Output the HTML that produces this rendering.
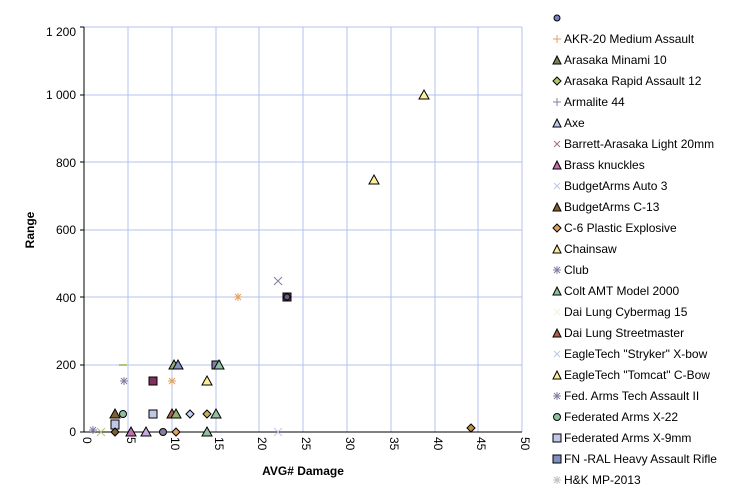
<!DOCTYPE html>
<html><head><style>
body{margin:0;background:#fff;width:747px;height:498px;overflow:hidden}
svg{font-family:"Liberation Sans",Arial,sans-serif}
</style></head><body>
<svg width="747" height="498" viewBox="0 0 747 498">
<g stroke="#b4c0ee" stroke-width="1">
<line x1="128" y1="27" x2="128" y2="432"/><line x1="172" y1="27" x2="172" y2="432"/><line x1="216" y1="27" x2="216" y2="432"/><line x1="259" y1="27" x2="259" y2="432"/><line x1="303" y1="27" x2="303" y2="432"/><line x1="347" y1="27" x2="347" y2="432"/><line x1="391" y1="27" x2="391" y2="432"/><line x1="435" y1="27" x2="435" y2="432"/><line x1="478" y1="27" x2="478" y2="432"/><line x1="522" y1="27" x2="522" y2="432"/>
<line x1="84" y1="27" x2="522" y2="27"/><line x1="84" y1="95" x2="522" y2="95"/><line x1="84" y1="162" x2="522" y2="162"/><line x1="84" y1="230" x2="522" y2="230"/><line x1="84" y1="297" x2="522" y2="297"/><line x1="84" y1="365" x2="522" y2="365"/>
</g>
<g stroke="#000"><line x1="84" y1="27" x2="84" y2="432"/><line x1="84" y1="432" x2="522" y2="432"/>
<line x1="80" y1="27" x2="84" y2="27"/><line x1="80" y1="95" x2="84" y2="95"/><line x1="80" y1="162" x2="84" y2="162"/><line x1="80" y1="230" x2="84" y2="230"/><line x1="80" y1="297" x2="84" y2="297"/><line x1="80" y1="365" x2="84" y2="365"/><line x1="80" y1="432" x2="84" y2="432"/></g>
<g font-size="12" text-anchor="end">
<text x="76" y="36">1 200</text><text x="76" y="99">1 000</text><text x="76" y="167">800</text><text x="76" y="234">600</text><text x="76" y="302">400</text><text x="76" y="369">200</text><text x="76" y="436">0</text></g>
<g font-size="12">
<text transform="translate(83,437) rotate(90)">0</text><text transform="translate(127,437) rotate(90)">5</text><text transform="translate(171,437) rotate(90)">10</text><text transform="translate(215,437) rotate(90)">15</text><text transform="translate(258,437) rotate(90)">20</text><text transform="translate(302,437) rotate(90)">25</text><text transform="translate(346,437) rotate(90)">30</text><text transform="translate(390,437) rotate(90)">35</text><text transform="translate(434,437) rotate(90)">40</text><text transform="translate(477,437) rotate(90)">45</text><text transform="translate(521,437) rotate(90)">50</text></g>
<text x="303" y="475" font-size="12" font-weight="bold" text-anchor="middle">AVG# Damage</text>
<text transform="translate(34,230) rotate(-90)" font-size="12" font-weight="bold" text-anchor="middle">Range</text>
<g stroke="#000" stroke-width="1">
<rect x="283" y="293" width="8" height="8" fill="#803060"/>
<polygon points="374,175 379,184 369,184" fill="#ffee99"/>
<polygon points="424,90 429,99 419,99" fill="#ffee99"/>
<polygon points="471,424 475,428 471,432 467,428" fill="#c09040"/>
<polygon points="174,360 179,369 169,369" fill="#90b070"/>
<polygon points="178,360 183,369 173,369" fill="#8090c0"/>
<rect x="212" y="361" width="8" height="8" fill="#8080a0"/>
<polygon points="219,360 224,369 214,369" fill="#90c0a0"/>
<rect x="149" y="377" width="8" height="8" fill="#803060"/>
<polygon points="207,376 212,385 202,385" fill="#ffee99"/>
<polygon points="115,409 120,418 110,418" fill="#806030"/>
<circle cx="123" cy="414" r="3.5" fill="#90c0a0"/>
<rect x="149" y="410" width="8" height="8" fill="#c0c8e8"/>
<polygon points="172,409 177,418 167,418" fill="#b06050"/>
<polygon points="176,409 181,418 171,418" fill="#90b070"/>
<polygon points="190,410 194,414 190,418 186,414" fill="#c0d0f0"/>
<polygon points="207,410 211,414 207,418 203,414" fill="#c0b060"/>
<polygon points="216,409 221,418 211,418" fill="#90c0a0"/>
<rect x="111" y="420" width="8" height="9" fill="#c0c8e8"/>
<polygon points="115,428 119,432 115,436 111,432" fill="#806030"/>
<polygon points="131,427 136,436 126,436" fill="#c070b0"/>
<polygon points="146,427 151,436 141,436" fill="#c8a8e0"/>
<circle cx="163" cy="432" r="3.5" fill="#8080a0"/>
<polygon points="176,428 180,432 176,436 172,432" fill="#e0a060"/>
<polygon points="207,427 212,436 202,436" fill="#90c0a0"/>
<circle cx="287" cy="297" r="3" fill="#606080"/>
</g>
<g stroke-width="1">
<path d="M274,277l8,8M282,277l-8,8" stroke="#8080a0"/>
<path d="M234,297h8M238,293v8M235,294l6,6M241,294l-6,6" stroke="#e0a060"/>
<path d="M120,381h8M124,377v8M121,378l6,6M127,378l-6,6" stroke="#8080a0"/>
<path d="M168,381h8M172,377v8M169,378l6,6M175,378l-6,6" stroke="#e0a060"/>
<line x1="119" y1="365" x2="127" y2="365" stroke="#b0c870" stroke-width="2"/>
<path d="M89,430h8M93,426v8M90,427l6,6M96,427l-6,6" stroke="#8080a0"/>
<path d="M97,428l8,8M105,428l-8,8" stroke="#b0c870"/>
<path d="M274,428l8,8M282,428l-8,8" stroke="#c0c8e8"/>
</g>
<g font-size="12">
<circle cx="557" cy="18" r="3" fill="#8080c0" stroke="#000"/>
<text x="564" y="43">AKR-20 Medium Assault</text><path d="M553,39h8M557,35v8" stroke="#e0a060"/>
<text x="564" y="64">Arasaka Minami 10</text><polygon points="557,56 561,64 553,64" fill="#808060" stroke="#000"/>
<text x="564" y="85">Arasaka Rapid Assault 12</text><polygon points="557,77 561,81 557,85 553,81" fill="#b0c870" stroke="#000"/>
<text x="564" y="106">Armalite 44</text><path d="M553,102h8M557,98v8" stroke="#8080a0"/>
<text x="564" y="127">Axe</text><polygon points="557,119 561,127 553,127" fill="#c0c8e8" stroke="#000"/>
<text x="564" y="148">Barrett-Arasaka Light 20mm</text><path d="M554,141l6,6M560,141l-6,6" stroke="#a07090"/>
<text x="564" y="169">Brass knuckles</text><polygon points="557,161 561,169 553,169" fill="#c070b0" stroke="#000"/>
<text x="564" y="190">BudgetArms Auto 3</text><path d="M554,183l6,6M560,183l-6,6" stroke="#c0c8e8"/>
<text x="564" y="211">BudgetArms C-13</text><polygon points="557,203 561,211 553,211" fill="#806030" stroke="#000"/>
<text x="564" y="232">C-6 Plastic Explosive</text><polygon points="557,224 561,228 557,232 553,228" fill="#e0a060" stroke="#000"/>
<text x="564" y="253">Chainsaw</text><polygon points="557,245 561,253 553,253" fill="#ffee99" stroke="#000"/>
<text x="564" y="274">Club</text><path d="M553,270h8M557,266v8M554,267l6,6M560,267l-6,6" stroke="#8080a0"/>
<text x="564" y="295">Colt AMT Model 2000</text><polygon points="557,287 561,295 553,295" fill="#90c0a0" stroke="#000"/>
<text x="564" y="316">Dai Lung Cybermag 15</text><path d="M554,309l6,6M560,309l-6,6" stroke="#f0f0e0"/>
<text x="564" y="337">Dai Lung Streetmaster</text><polygon points="557,329 561,337 553,337" fill="#b06050" stroke="#000"/>
<text x="564" y="358">EagleTech "Stryker" X-bow</text><path d="M554,351l6,6M560,351l-6,6" stroke="#c0c8e8"/>
<text x="564" y="379">EagleTech "Tomcat" C-Bow</text><polygon points="557,371 561,379 553,379" fill="#ffee99" stroke="#000"/>
<text x="564" y="400">Fed. Arms Tech Assault II</text><path d="M553,396h8M557,392v8M554,393l6,6M560,393l-6,6" stroke="#8080a0"/>
<text x="564" y="421">Federated Arms X-22</text><circle cx="557" cy="417" r="3.5" fill="#90c0a0" stroke="#000"/>
<text x="564" y="442">Federated Arms X-9mm</text><rect x="553" y="434" width="8" height="8" fill="#c0c8e8" stroke="#000"/>
<text x="564" y="463">FN -RAL Heavy Assault Rifle</text><rect x="553" y="455" width="8" height="8" fill="#8090c0" stroke="#000"/>
<text x="564" y="484">H&amp;K MP-2013</text><path d="M553,480h8M557,476v8M554,477l6,6M560,477l-6,6" stroke="#c0c0c0"/>
</g>
</svg>
</body></html>
